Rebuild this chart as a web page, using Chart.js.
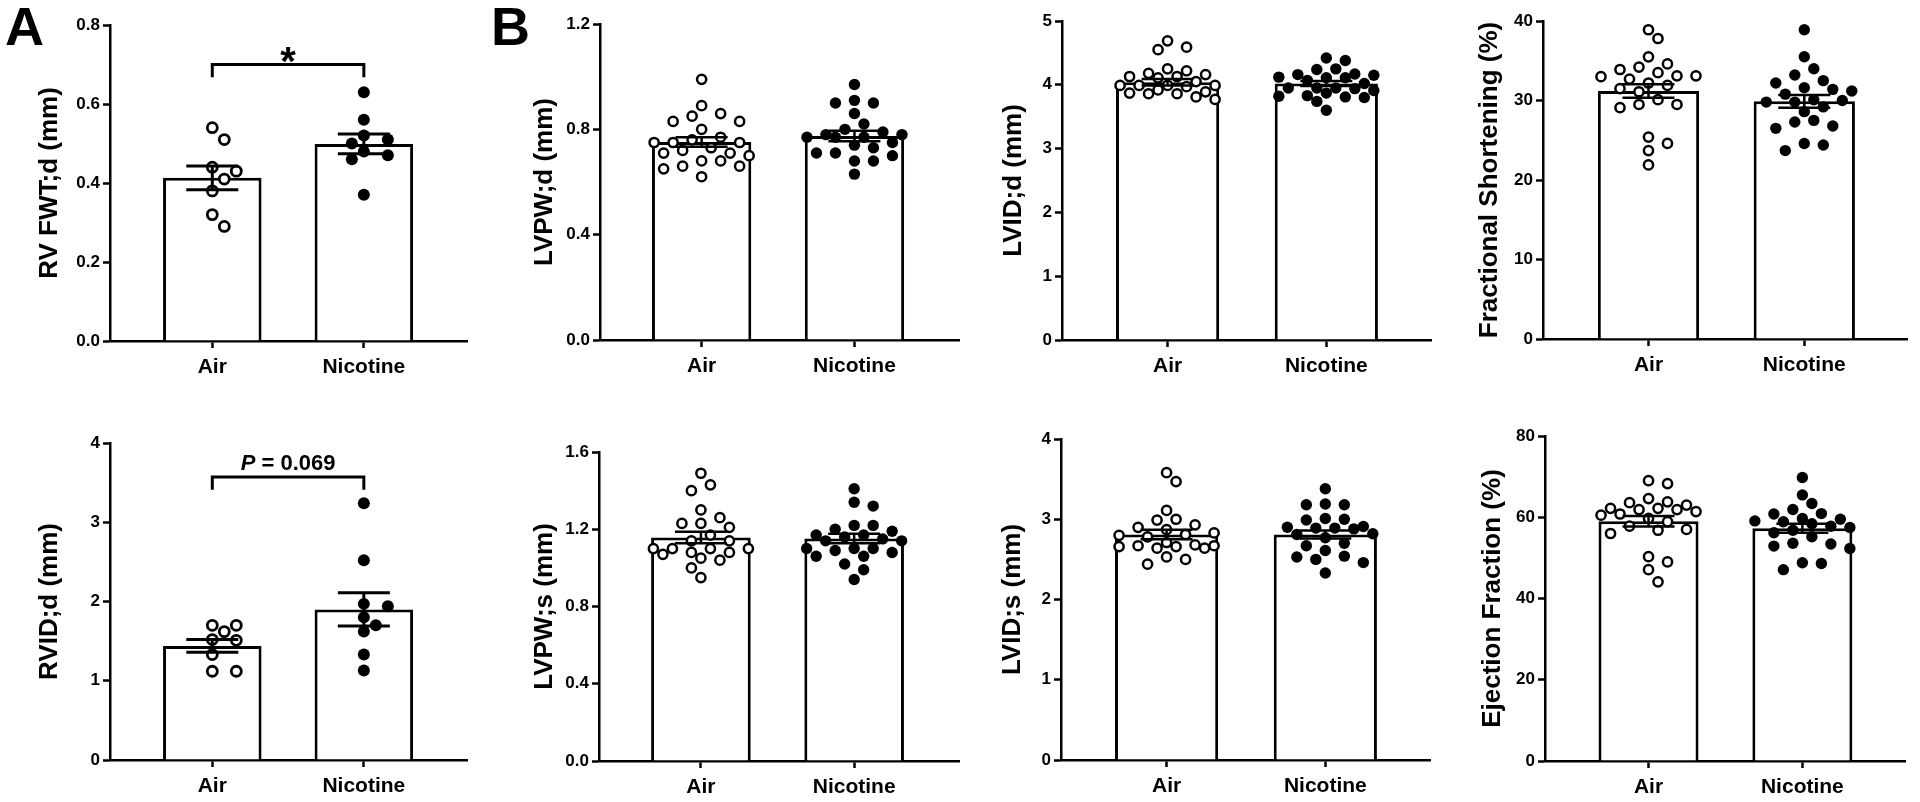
<!DOCTYPE html>
<html>
<head>
<meta charset="utf-8">
<script src="https://cdn.jsdelivr.net/npm/chart.js@4.4.1/dist/chart.umd.min.js"></script>
<style>
  body { margin: 0; background: #fff; width: 1920px; height: 802px; overflow: hidden; position: relative; font-family: "Liberation Sans", Arial, sans-serif; }
  canvas { position: absolute; }
  .panel-label { position: absolute; font-weight: bold; font-size: 54px; line-height: 1; color: #000; z-index: 2; }
</style>
</head>
<body>
<div class="panel-label" style="left:5px;top:-1px">A</div>
<div class="panel-label" style="left:491px;top:-1px">B</div>
<script>
const groups = ["Air", "Nicotine"];

// A, top: RV free wall thickness
const rvfwtAir  = [0.54, 0.51, 0.44, 0.43, 0.41, 0.38, 0.32, 0.29];
const rvfwtNic  = [0.63, 0.56, 0.52, 0.51, 0.50, 0.48, 0.47, 0.46, 0.37];
const rvfwtMean = [0.413, 0.499];
const rvfwtSem  = [0.030, 0.025];
const rvfwtTicks = ["0.0", "0.2", "0.4", "0.6", "0.8"];

// A, bottom: RV internal diameter
const rvidAir  = [1.70, 1.70, 1.62, 1.52, 1.51, 1.33, 1.12, 1.12];
const rvidNic  = [3.24, 2.52, 1.97, 1.94, 1.80, 1.70, 1.62, 1.33, 1.13];
const rvidMean = [1.44, 1.90];
const rvidSem  = [0.08, 0.21];
const rvidTicks = ["0", "1", "2", "3", "4"];

// B: LVPW;d
const lvpwdAir  = [0.99, 0.89, 0.86, 0.85, 0.83, 0.83, 0.80, 0.77, 0.76, 0.75, 0.75, 0.75, 0.73, 0.72, 0.71, 0.71, 0.70, 0.68, 0.68, 0.66, 0.66, 0.65, 0.62];
const lvpwdNic  = [0.97, 0.91, 0.90, 0.90, 0.86, 0.82, 0.80, 0.79, 0.78, 0.78, 0.77, 0.77, 0.77, 0.75, 0.74, 0.73, 0.71, 0.71, 0.70, 0.68, 0.68, 0.63];
const lvpwdMean = [0.752, 0.775];
const lvpwdSem  = [0.018, 0.020];
const lvpwdTicks = ["0.0", "0.4", "0.8", "1.2"];

// B: LVID;d
const lviddAir  = [4.69, 4.59, 4.55, 4.25, 4.22, 4.18, 4.16, 4.13, 4.13, 4.11, 4.05, 3.99, 3.99, 3.99, 3.99, 3.97, 3.92, 3.89, 3.87, 3.86, 3.86, 3.81, 3.77];
const lviddNic  = [4.42, 4.38, 4.25, 4.24, 4.17, 4.16, 4.15, 4.12, 4.11, 4.11, 4.07, 4.02, 3.95, 3.95, 3.95, 3.94, 3.91, 3.87, 3.83, 3.82, 3.81, 3.80, 3.74, 3.60];
const lviddMean = [4.04, 4.02];
const lviddSem  = [0.05, 0.04];
const lviddTicks = ["0", "1", "2", "3", "4", "5"];

// B: fractional shortening
const fsAir  = [38.9, 37.8, 35.5, 34.6, 34.2, 33.9, 33.5, 33.1, 33.1, 33.0, 32.7, 32.2, 31.9, 31.5, 31.1, 30.1, 29.5, 29.5, 29.1, 25.4, 24.6, 23.7, 21.9];
const fsNic  = [38.9, 35.5, 34.0, 33.2, 32.5, 32.2, 31.6, 31.4, 31.2, 30.8, 30.1, 30.0, 29.8, 29.8, 29.2, 28.6, 27.5, 27.3, 26.8, 26.5, 24.6, 24.4, 23.7];
const fsMean = [31.2, 29.9];
const fsSem  = [0.85, 0.80];
const fsTicks = ["0", "10", "20", "30", "40"];

// B: LVPW;s
const lvpwsAir  = [1.49, 1.43, 1.40, 1.30, 1.26, 1.23, 1.23, 1.21, 1.17, 1.14, 1.14, 1.10, 1.10, 1.10, 1.10, 1.08, 1.08, 1.07, 1.05, 1.04, 1.00, 0.95];
const lvpwsNic  = [1.41, 1.34, 1.32, 1.22, 1.22, 1.20, 1.19, 1.17, 1.17, 1.16, 1.15, 1.14, 1.14, 1.10, 1.10, 1.10, 1.09, 1.08, 1.06, 1.06, 1.02, 0.99, 0.94];
const lvpwsMean = [1.157, 1.152];
const lvpwsSem  = [0.030, 0.025];
const lvpwsTicks = ["0.0", "0.4", "0.8", "1.2", "1.6"];

// B: LVID;s
const lvidsAir  = [3.58, 3.47, 3.11, 3.00, 2.99, 2.93, 2.90, 2.87, 2.83, 2.81, 2.80, 2.78, 2.71, 2.68, 2.67, 2.67, 2.66, 2.66, 2.64, 2.64, 2.53, 2.50, 2.44];
const lvidsNic  = [3.38, 3.19, 3.18, 3.18, 3.01, 3.00, 2.99, 2.91, 2.90, 2.89, 2.89, 2.88, 2.82, 2.81, 2.77, 2.70, 2.67, 2.61, 2.54, 2.53, 2.50, 2.46, 2.33];
const lvidsMean = [2.81, 2.81];
const lvidsSem  = [0.06, 0.05];
const lvidsTicks = ["0", "1", "2", "3", "4"];

// B: ejection fraction
const efAir  = [69.0, 68.3, 64.6, 63.8, 63.6, 63.0, 62.2, 62.2, 61.9, 61.9, 61.4, 60.8, 60.5, 59.7, 58.9, 57.8, 57.0, 56.8, 56.0, 50.3, 49.0, 47.1, 44.1];
const efNic  = [69.8, 65.5, 63.4, 61.9, 60.9, 60.8, 59.7, 59.5, 59.1, 58.9, 58.4, 57.8, 57.5, 56.8, 56.2, 55.2, 53.6, 53.4, 52.9, 52.3, 48.8, 48.6, 47.1];
const efMean = [59.0, 57.3];
const efSem  = [1.3, 1.1];
const efTicks = ["0", "20", "40", "60", "80"];

const FONT = "'Liberation Sans', Arial, sans-serif";

// page layout of each panel (pixels)
const panels = [
  { title: "RV FWT;d (mm)", air: rvfwtAir, nic: rvfwtNic, mean: rvfwtMean, sem: rvfwtSem, ticks: rvfwtTicks,
    axisX: 110, right: 473, top: 25, bottom: 341, titleX: 50, xMin: -0.675, xMax: 1.682, big: true,
    bracket: { y: 0.70, drop: 0.668, text: "*" } },
  { title: "RVID;d (mm)", air: rvidAir, nic: rvidNic, mean: rvidMean, sem: rvidSem, ticks: rvidTicks,
    axisX: 110, right: 473, top: 443, bottom: 760, titleX: 50, xMin: -0.675, xMax: 1.682, big: true,
    bracket: { y: 3.57, drop: 3.41, text: "P = 0.069" } },
  { title: "LVPW;d (mm)", air: lvpwdAir, nic: lvpwdNic, mean: lvpwdMean, sem: lvpwdSem, ticks: lvpwdTicks,
    axisX: 600, right: 965, top: 24, bottom: 340, titleX: 545, xMin: -0.665, xMax: 1.69 },
  { title: "LVPW;s (mm)", air: lvpwsAir, nic: lvpwsNic, mean: lvpwsMean, sem: lvpwsSem, ticks: lvpwsTicks,
    axisX: 599, right: 965, top: 452, bottom: 761, titleX: 545, xMin: -0.665, xMax: 1.69 },
  { title: "LVID;d (mm)", air: lviddAir, nic: lviddNic, mean: lviddMean, sem: lviddSem, ticks: lviddTicks,
    axisX: 1062, right: 1437, top: 21, bottom: 340, titleX: 1014, xMin: -0.665, xMax: 1.665 },
  { title: "LVID;s (mm)", air: lvidsAir, nic: lvidsNic, mean: lvidsMean, sem: lvidsSem, ticks: lvidsTicks,
    axisX: 1061, right: 1436, top: 439, bottom: 760, titleX: 1013, xMin: -0.665, xMax: 1.665 },
  { title: "Fractional Shortening (%)", air: fsAir, nic: fsNic, mean: fsMean, sem: fsSem, ticks: fsTicks,
    axisX: 1543, right: 1913, top: 21, bottom: 339, titleX: 1490, xMin: -0.677, xMax: 1.665 },
  { title: "Ejection Fraction (%)", air: efAir, nic: efNic, mean: efMean, sem: efSem, ticks: efTicks,
    axisX: 1545, right: 1911, top: 436, bottom: 761, titleX: 1493, xMin: -0.673, xMax: 1.673 }
];

// mean ± SEM whiskers
const errorBars = {
  id: "errorBars",
  afterDatasetsDraw(chart, args, o) {
    const { ctx, scales: { x, y } } = chart;
    ctx.save();
    ctx.strokeStyle = "#000";
    ctx.lineWidth = o.width;
    o.mean.forEach((m, i) => {
      const px = x.getPixelForValue(i);
      const hi = y.getPixelForValue(m + o.sem[i]);
      const lo = y.getPixelForValue(m - o.sem[i]);
      ctx.beginPath();
      ctx.moveTo(px, hi); ctx.lineTo(px, lo);
      ctx.moveTo(px - o.cap / 2, hi); ctx.lineTo(px + o.cap / 2, hi);
      ctx.moveTo(px - o.cap / 2, lo); ctx.lineTo(px + o.cap / 2, lo);
      ctx.stroke();
    });
    ctx.restore();
  }
};

// significance bracket over the two bars
const bracket = {
  id: "bracket",
  afterDraw(chart, args, o) {
    if (!o || !o.text) return;
    const { ctx, scales: { x, y } } = chart;
    const xa = x.getPixelForValue(0), xb = x.getPixelForValue(1);
    const yt = y.getPixelForValue(o.y), yd = y.getPixelForValue(o.drop);
    ctx.save();
    ctx.strokeStyle = "#000";
    ctx.lineWidth = 3;
    ctx.beginPath();
    ctx.moveTo(xa, yd); ctx.lineTo(xa, yt); ctx.lineTo(xb, yt); ctx.lineTo(xb, yd);
    ctx.stroke();
    ctx.fillStyle = "#000";
    ctx.textBaseline = "alphabetic";
    const cx = (xa + xb) / 2;
    if (o.text === "*") {
      ctx.font = "bold 40px " + FONT;
      ctx.textAlign = "center";
      ctx.fillText("*", cx, yt + 10);
    } else {
      const head = o.text.slice(0, 1), tail = o.text.slice(1);
      ctx.font = "italic bold 22px " + FONT;
      const w1 = ctx.measureText(head).width;
      ctx.font = "bold 22px " + FONT;
      const w2 = ctx.measureText(tail).width;
      const sx = cx - (w1 + w2) / 2;
      ctx.textAlign = "left";
      ctx.font = "italic bold 22px " + FONT;
      ctx.fillText(head, sx, yt - 7);
      ctx.font = "bold 22px " + FONT;
      ctx.fillText(tail, sx + w1, yt - 7);
    }
    ctx.restore();
  }
};

// beeswarm kept inside +-maxOff px: each dot takes the nearest free slot,
// or the least crowded one when every slot is taken
function swarm(chart, step, gap, maxOff) {
  const xs = chart.scales.x, ys = chart.scales.y;
  const unit = xs.getPixelForValue(1) - xs.getPixelForValue(0);
  const slots = [0];
  for (let k = 1; k * step <= maxOff + 0.01; k++) slots.push(k * step, -k * step);
  chart.data.datasets.forEach(ds => {
    if (ds.type !== "scatter") return;
    const pts = ds.data.map(p => ({ p, py: ys.getPixelForValue(p.y), ox: 0 })).sort((a, b) => a.py - b.py);
    const placed = [];
    pts.forEach(o => {
      let best = 0, bestD = -1;
      for (const off of slots) {
        const d = placed.reduce((m, q) => Math.min(m, Math.hypot(q.ox - off, q.py - o.py)), Infinity);
        if (d >= gap) { best = off; bestD = d; break; }
        if (d > bestD) { best = off; bestD = d; }
      }
      o.ox = best;
      placed.push(o);
      o.p.x = ds.group + o.ox / unit;
    });
  });
  chart.update("none");
}

const axisLine = { display: true, color: "#000", width: 2.5 };
const tickMarks = { drawOnChartArea: false, drawTicks: true, tickLength: 7, tickWidth: 2.5, tickColor: "#000" };

panels.forEach(p => {
  const x0 = Math.round(p.titleX - 15.6);
  const y0 = p.top - 16;
  const w = p.right - x0 + 2;
  const h = p.bottom - y0 + 50;
  const cv = document.createElement("canvas");
  cv.width = w; cv.height = h;
  cv.style.left = x0 + "px"; cv.style.top = y0 + "px";
  cv.style.width = w + "px"; cv.style.height = h + "px";
  document.body.appendChild(cv);

  const yw = p.axisX - x0;
  const yMax = parseFloat(p.ticks[p.ticks.length - 1]);
  const r = p.big ? 5 : 4.6;

  const chart = new Chart(cv, {
    type: "bar",
    data: {
      datasets: [
        { type: "bar", order: 3, data: p.mean.map((m, i) => ({ x: i, y: m })),
          backgroundColor: "#fff", borderColor: "#000", borderWidth: 3,
          barPercentage: 0.65, categoryPercentage: 1 },
        { type: "scatter", order: 1, group: 0, data: p.air.map(v => ({ x: 0, y: v })), clip: false,
          pointStyle: "circle", pointRadius: r, pointBackgroundColor: "#fff",
          pointBorderColor: "#000", pointBorderWidth: p.big ? 2.8 : 2.5 },
        { type: "scatter", order: 2, group: 1, data: p.nic.map(v => ({ x: 1, y: v })), clip: false,
          pointStyle: "circle", pointRadius: p.big ? 6 : 5.7, pointBackgroundColor: "#000",
          pointBorderColor: "#000", pointBorderWidth: 0 }
      ]
    },
    options: {
      responsive: false,
      animation: false,
      events: [],
      layout: { padding: { top: 16, right: 2, left: 0, bottom: 0 } },
      plugins: {
        legend: { display: false },
        tooltip: { enabled: false },
        errorBars: { mean: p.mean, sem: p.sem, cap: 52, width: p.big ? 3 : 2.5 },
        bracket: p.bracket || {}
      },
      scales: {
        x: {
          type: "linear", min: p.xMin, max: p.xMax, offset: false,
          afterBuildTicks: s => { s.ticks = groups.map((g, i) => ({ value: i })); },
          afterFit: s => { s.height = 50; },
          ticks: { callback: (v, i) => groups[i], color: "#000", padding: 7, maxRotation: 0, autoSkip: false,
                   font: { family: FONT, size: 21, weight: "bold" } },
          grid: { ...tickMarks, offset: false },
          border: axisLine
        },
        y: {
          min: 0, max: yMax,
          afterBuildTicks: s => { s.ticks = p.ticks.map(t => ({ value: parseFloat(t) })); },
          afterFit: s => { s.width = yw; },
          ticks: { callback: (v, i) => p.ticks[i], color: "#000", padding: 3,
                   font: { family: FONT, size: 17, weight: "bold" } },
          grid: tickMarks,
          border: axisLine,
          title: { display: true, text: p.title, color: "#000", padding: 0,
                   font: { family: FONT, size: 26, weight: "bold" } }
        }
      }
    },
    plugins: [errorBars, bracket]
  });
  if (p.big) swarm(chart, 12, 13, 36);
  else swarm(chart, 9.5, 12.5, 47.5);
});
</script>
</body>
</html>
